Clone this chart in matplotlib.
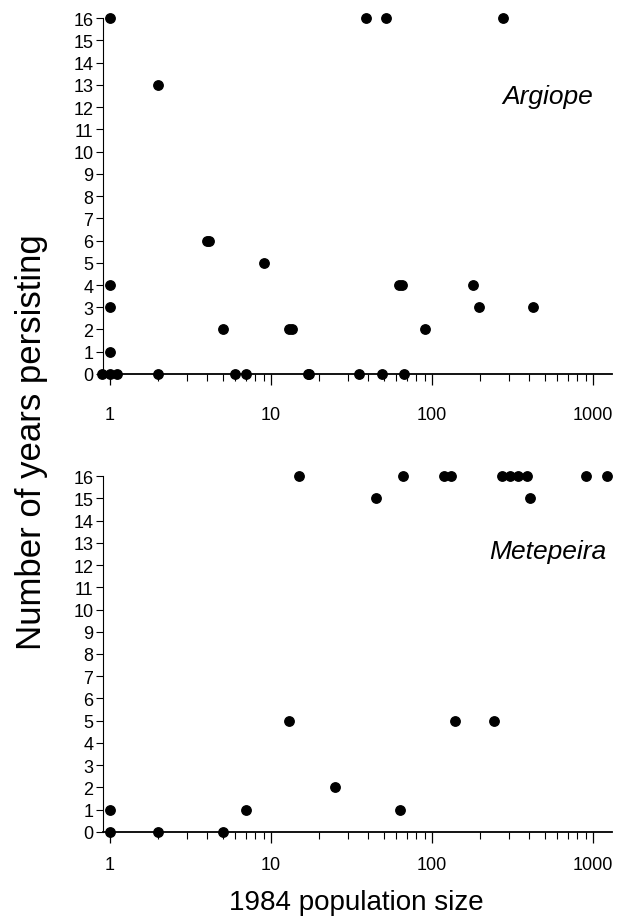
import matplotlib.pyplot as plt
from matplotlib.ticker import LogLocator, NullFormatter, FixedLocator

plt.rcParams['font.family'] = ['Liberation Sans', 'DejaVu Sans']

# Argiope: 1984 population size vs. years persisting
argiope_size = [1, 2, 4, 4.1, 9, 1, 1, 5, 13, 13.5, 1,
                0.89, 1, 1.11, 2, 6, 7, 17, 17.2,
                39, 52, 275, 62, 65, 180, 195, 425, 90,
                35, 49, 67]
argiope_years = [16, 13, 6, 6, 5, 4, 3, 2, 2, 2, 1,
                 0, 0, 0, 0, 0, 0, 0, 0,
                 16, 16, 16, 4, 4, 4, 3, 3, 2,
                 0, 0, 0]

# Metepeira
metepeira_size = [1, 1, 2, 5, 7, 13, 15, 25,
                  66, 45, 118, 132, 271, 305, 344, 387, 405, 900, 1225,
                  138, 243, 63]
metepeira_years = [1, 0, 0, 0, 1, 5, 16, 2,
                   16, 15, 16, 16, 16, 16, 16, 16, 15, 16, 16,
                   5, 5, 1]

fig = plt.figure(figsize=(6.21, 9.20), dpi=100)
ax1 = fig.add_axes([0.1659, 0.5924, 0.8196, 0.3869])
ax2 = fig.add_axes([0.1659, 0.0946, 0.8196, 0.3869])

panels = [(ax1, argiope_size, argiope_years, 'Argiope', 593, 104, 15),
          (ax2, metepeira_size, metepeira_years, 'Metepeira', 606, 559, 9.5)]

for ax, xs, ys, name, tx, ty, xpad in panels:
    ax.scatter(xs, ys, s=46, color='black', zorder=3, clip_on=False)
    ax.set_xscale('log')
    ax.set_xlim(0.905, 1312)
    ax.set_ylim(0, 16)
    ax.spines['top'].set_visible(False)
    ax.spines['right'].set_visible(False)
    ax.spines['left'].set_linewidth(0.8)
    ax.spines['bottom'].set_linewidth(1.3)
    ax.yaxis.set_major_locator(FixedLocator(range(0, 17)))
    ax.xaxis.set_major_locator(FixedLocator([1, 10, 100, 1000]))
    ax.set_xticklabels(['1', '10', '100', '1000'])
    ax.xaxis.set_minor_locator(LogLocator(base=10, subs=range(2, 10)))
    ax.xaxis.set_minor_formatter(NullFormatter())
    ax.tick_params(axis='y', which='major', direction='out', length=5,
                   width=0.8, labelsize=13, pad=2)
    ax.tick_params(axis='x', which='major', direction='out', length=8,
                   width=0.9, labelsize=13, pad=xpad)
    ax.tick_params(axis='x', which='minor', direction='out', length=5,
                   width=0.8)
    # species label, placed in pixel coords from the reference
    fig.text(tx / 621, 1 - ty / 920, name, style='italic', fontsize=19,
             ha='right', va='baseline')

fig.text(32 / 621, 1 - 442 / 920, 'Number of years persisting',
         rotation=90, fontsize=25, ha='center', va='center')
fig.text(356 / 621, 1 - 903 / 920, '1984 population size',
         fontsize=20, ha='center', va='center')

fig.savefig('out.png', dpi=100)
